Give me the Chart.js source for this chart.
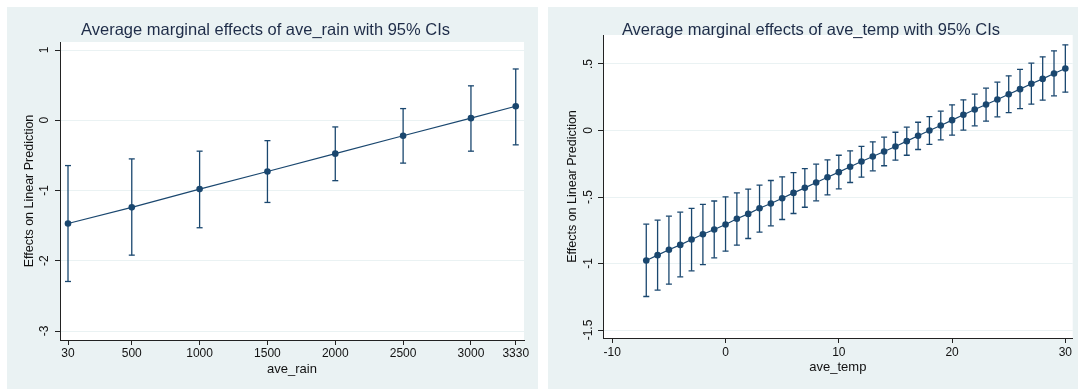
<!DOCTYPE html>
<html>
<head>
<meta charset="utf-8">
<script src="https://cdn.jsdelivr.net/npm/chart.js@4/dist/chart.umd.min.js"></script>
<style>
  body { margin: 0; background: #ffffff; overflow: hidden; }
  canvas { position: absolute; }
  #rain { left: 7px; top: 7px; }
  #temp { left: 548px; top: 7px; }
</style>
</head>
<body>
<canvas id="rain" width="531" height="382"></canvas>
<canvas id="temp" width="530" height="382"></canvas>
<script>
// left panel: ave_rain
const rainX = [30, 500, 1000, 1500, 2000, 2500, 3000, 3330];
const rainEffect = [-1.47, -1.24, -0.98, -0.73, -0.475, -0.22, 0.03, 0.20];
const rainLower = [-2.295, -1.92, -1.53, -1.17, -0.86, -0.61, -0.44, -0.35];
const rainUpper = [-0.645, -0.55, -0.44, -0.29, -0.095, 0.166, 0.49, 0.73];
const rainXTicks = [30, 500, 1000, 1500, 2000, 2500, 3000, 3330];
const rainXLabels = ['30', '500', '1000', '1500', '2000', '2500', '3000', '3330'];
const rainYTicks = [-3, -2, -1, 0, 1];
const rainYLabels = ['-3', '-2', '-1', '0', '1'];

// right panel: ave_temp
const tempX = [-7, -6, -5, -4, -3, -2, -1, 0, 1, 2, 3, 4, 5, 6, 7, 8, 9, 10, 11, 12,
  13, 14, 15, 16, 17, 18, 19, 20, 21, 22, 23, 24, 25, 26, 27, 28, 29, 30];
const tempEffect = [-0.977, -0.937, -0.897, -0.86, -0.82, -0.78, -0.744, -0.707, -0.664, -0.627,
  -0.584, -0.549, -0.509, -0.469, -0.431, -0.391, -0.351, -0.313, -0.273, -0.233,
  -0.195, -0.158, -0.12, -0.08, -0.04, 0.0, 0.038, 0.078, 0.118, 0.158,
  0.195, 0.233, 0.273, 0.311, 0.351, 0.388, 0.429, 0.466];
const tempLower = [-1.248, -1.20, -1.155, -1.10, -1.055, -1.008, -0.957, -0.907, -0.862, -0.812,
  -0.764, -0.717, -0.669, -0.624, -0.577, -0.529, -0.484, -0.439, -0.391, -0.351,
  -0.303, -0.265, -0.223, -0.186, -0.143, -0.105, -0.07, -0.035, 0.003, 0.035,
  0.07, 0.103, 0.135, 0.165, 0.198, 0.228, 0.261, 0.288];
const tempUpper = [-0.704, -0.674, -0.644, -0.614, -0.586, -0.556, -0.53, -0.499, -0.469, -0.44,
  -0.41, -0.376, -0.348, -0.316, -0.286, -0.253, -0.221, -0.186, -0.153, -0.12,
  -0.085, -0.05, -0.013, 0.025, 0.062, 0.105, 0.145, 0.193, 0.231, 0.273,
  0.318, 0.363, 0.411, 0.459, 0.506, 0.554, 0.599, 0.644];
const tempXTicks = [-10, 0, 10, 20, 30];
const tempXLabels = ['-10', '0', '10', '20', '30'];
const tempYTicks = [-1.5, -1, -0.5, 0, 0.5];
const tempYLabels = ['-1.5', '-1', '-.5', '0', '.5'];

const NAVY = '#1a476f';
const PANEL_BG = '#eaf2f3';
const FONT = '"Liberation Sans", Arial, Helvetica, sans-serif';

// stata-like backdrop plus rotated y tick labels
const stataLook = {
  id: 'stataLook',
  beforeDraw(chart) {
    const { ctx, chartArea: a } = chart;
    ctx.save();
    ctx.fillStyle = PANEL_BG;
    ctx.fillRect(0, 0, chart.width, chart.height);
    ctx.fillStyle = '#ffffff';
    ctx.fillRect(a.left, a.top, a.right - a.left, a.bottom - a.top);
    ctx.restore();
  },
  afterDraw(chart, args, opts) {
    const { ctx } = chart;
    const y = chart.scales.y;
    ctx.save();
    ctx.font = '12px ' + FONT;
    ctx.fillStyle = '#111111';
    ctx.textAlign = 'center';
    ctx.textBaseline = 'middle';
    opts.ticks.forEach((v, i) => {
      ctx.save();
      ctx.translate(opts.labelX, y.getPixelForValue(v));
      ctx.rotate(-Math.PI / 2);
      ctx.fillText(opts.labels[i], 0, 0);
      ctx.restore();
    });
    ctx.restore();
  }
};

const makeChart = (p) => ({
  type: 'line',
  data: {
    datasets: [
      {
        type: 'line',
        data: p.xs.map((x, i) => ({ x: x, y: p.effect[i] })),
        borderColor: NAVY,
        borderWidth: 1.2,
        pointRadius: 3.3,
        pointBackgroundColor: NAVY,
        pointBorderWidth: 0,
        tension: 0,
        order: 0
      },
      {
        type: 'scatter',
        data: p.xs.flatMap((x, i) => [{ x: x, y: p.lower[i] }, { x: x, y: p.upper[i] }]),
        pointStyle: 'line',
        pointRadius: 3,
        borderColor: NAVY,
        borderWidth: 1.3,
        order: 1
      },
      {
        type: 'bar',
        data: p.xs.map((x, i) => ({ x: x, y: [p.lower[i], p.upper[i]] })),
        backgroundColor: NAVY,
        barThickness: 1.3,
        inflateAmount: 0,
        order: 2
      }
    ]
  },
  options: {
    responsive: false,
    animation: false,
    events: [],
    layout: { padding: { left: 0, right: p.padRight, top: 0, bottom: 0 } },
    plugins: {
      legend: { display: false },
      tooltip: { enabled: false },
      title: {
        display: true,
        text: p.title,
        color: '#1e2c48',
        font: { family: FONT, size: 16.5, weight: 'normal', lineHeight: 1.2 },
        padding: { top: 13.6, bottom: p.titleBottom }
      },
      stataLook: { ticks: p.yTicks, labels: p.yLabels, labelX: p.yLabelX }
    },
    scales: {
      x: {
        type: 'linear',
        min: p.xMin,
        max: p.xMax,
        offset: false,
        afterFit: s => { s.height = p.xHeight; },
        afterBuildTicks: s => { s.ticks = p.xTicks.map(v => ({ value: v })); },
        border: { display: true, color: '#222222', width: 1 },
        grid: { display: true, offset: false, drawOnChartArea: false, drawTicks: true, tickLength: 5, tickColor: '#222222' },
        ticks: {
          color: '#111111',
          font: { family: FONT, size: 12 },
          padding: p.xTickPad,
          maxRotation: 0,
          autoSkip: false,
          callback: (v) => p.xLabels[p.xTicks.indexOf(v)]
        },
        title: {
          display: true,
          text: p.xTitle,
          color: '#111111',
          font: { family: FONT, size: 13 },
          padding: { top: 0, bottom: p.xTitleBottom }
        }
      },
      y: {
        type: 'linear',
        min: p.yMin,
        max: p.yMax,
        afterFit: s => { s.width = p.yWidth; },
        afterBuildTicks: s => { s.ticks = p.yTicks.map(v => ({ value: v })); },
        border: { display: true, color: '#222222', width: 1 },
        grid: { color: PANEL_BG, lineWidth: 1, drawTicks: true, tickLength: 5, tickColor: '#222222' },
        ticks: { display: false },
        title: {
          display: true,
          text: 'Effects on Linear Prediction',
          color: '#111111',
          font: { family: FONT, size: 12.5 },
          padding: { top: p.yTitleTop, bottom: 0 }
        }
      }
    }
  },
  plugins: [stataLook]
});

new Chart(document.getElementById('rain'), makeChart({
  title: 'Average marginal effects of ave_rain with 95% CIs',
  xs: rainX, effect: rainEffect, lower: rainLower, upper: rainUpper,
  xTicks: rainXTicks, xLabels: rainXLabels, yTicks: rainYTicks, yLabels: rainYLabels,
  xTitle: 'ave_rain',
  xMin: -29, xMax: 3391, yMin: -3.128, yMax: 1.114,
  padRight: 14, titleBottom: 1.6,
  yWidth: 53, yLabelX: 38, yTitleTop: 14.7,
  xHeight: 49, xTickPad: 1.8, xTitleBottom: 11.7
}));

new Chart(document.getElementById('temp'), makeChart({
  title: 'Average marginal effects of ave_temp with 95% CIs',
  xs: tempX, effect: tempEffect, lower: tempLower, upper: tempUpper,
  xTicks: tempXTicks, xLabels: tempXLabels, yTicks: tempYTicks, yLabels: tempYLabels,
  xTitle: 'ave_temp',
  xMin: -10.82, xMax: 30.65, yMin: -1.56, yMax: 0.718,
  padRight: 4, titleBottom: -5.4,
  yWidth: 55, yLabelX: 40.5, yTitleTop: 17.2,
  xHeight: 51, xTickPad: 2.3, xTitleBottom: 13.7
}));
</script>
</body>
</html>
